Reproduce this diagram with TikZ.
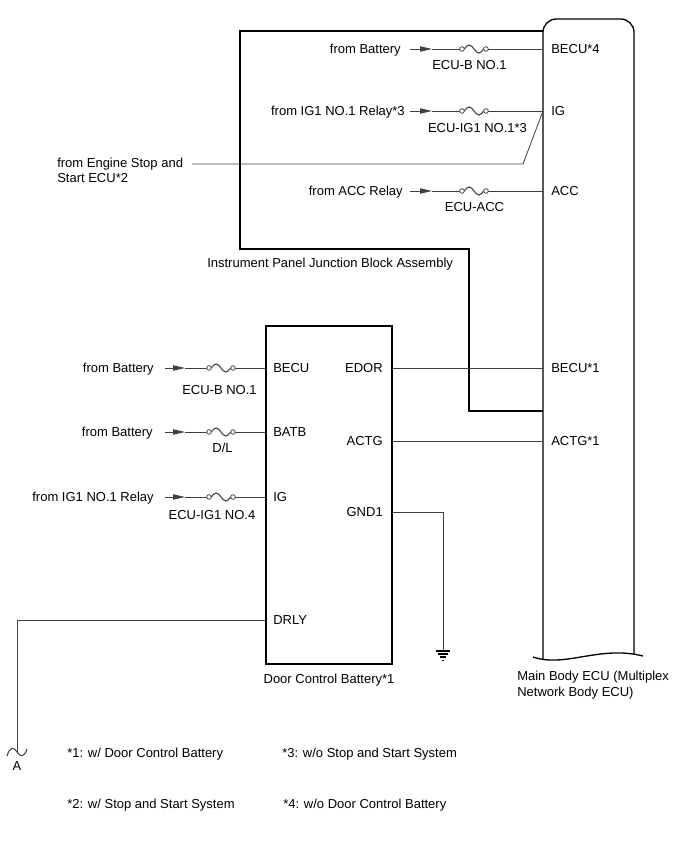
\documentclass[tikz,border=0pt]{standalone}
\usepackage{fontspec}
\setmainfont{Liberation Sans}
\usetikzlibrary{arrows.meta,positioning}
\tikzset{
  lbl/.style={inner sep=0pt,text height=7pt,text depth=0pt,font=\fontsize{9.75}{11.5}\selectfont},
  lbls/.style={inner sep=0pt,align=left,font=\fontsize{9.75}{11.5}\selectfont},
  wire/.style={line width=0.6pt,draw=black!75},
  frame/.style={line width=1pt},
  dcbbox/.style={draw,line width=1.5pt,minimum width=94.5pt,minimum height=253.5pt,inner sep=0pt},
  feed/.style={wire,-{Triangle[length=9pt,width=4pt]}},
  fuse/.pic={
    \draw[wire] (-12,0) circle[radius=2.3] (12,0) circle[radius=2.3];
    \draw[wire,line width=0.8pt] (-9.7,0) sin (-4.85,-4) cos (0,0) sin (4.85,4) cos (9.7,0);
    \coordinate (-l) at (-14.3,0);
    \coordinate (-r) at (14.3,0);
  }
}
\begin{document}
\begin{tikzpicture}[x=0.75pt,y=-0.75pt]
\useasboundingbox (0,0) rectangle (688,852);
% Main Body ECU
\draw[frame,rounded corners=10pt] (543,659) -- (543,19) -- (634,19) -- (634,654);
\draw[frame] (533,657) .. controls (565,668) and (600,645) .. (643,656);
\coordinate (ecu) at (543,0);
\node[lbls,anchor=north west] (ecuname) at (517,671) {Main Body ECU (Multiplex\\Network Body ECU)};
\node[lbl,anchor=west] (becu4) at (551,49) {BECU*4};
\node[lbl,anchor=west] (ig1) at (551,111) {IG};
\node[lbl,anchor=west] (acc) at (551,191) {ACC};
\node[lbl,anchor=west] (becu1) at (551,368) {BECU*1};
\node[lbl,anchor=west] (actg1) at (551,441) {ACTG*1};
% Instrument Panel Junction Block Assembly
\draw[frame] (543,31) -- (240,31) -- (240,249) -- (469,249) -- (469,411) -- (543,411);
\node[lbl,anchor=west] (jbname) at (207,263) {Instrument Panel Junction Block Assembly};
% ECU-B NO.1
\node[lbl,anchor=east] (bat1) at (401,49) {from Battery};
\coordinate (a1) at (410,49);
\coordinate (t1) at (432,49);
\pic (f1) at (474,49) {fuse};
\draw[feed] (a1) -- (t1);
\draw[wire] (t1) -- (f1-l);
\draw[wire] (f1-r) -- (becu4 -| ecu);
\node[lbl] (f1name) at (469.5,65) {ECU-B NO.1};
% ECU-IG1 NO.1
\node[lbl,anchor=east] (relay1) at (405,111) {from IG1 NO.1 Relay*3};
\coordinate (a2) at (410,111);
\coordinate (t2) at (432,111);
\pic (f2) at (474,111) {fuse};
\draw[feed] (a2) -- (t2);
\draw[wire] (t2) -- (f2-l);
\draw[wire] (f2-r) -- (ig1 -| ecu);
\node[lbl] (f2name) at (477.5,128) {ECU-IG1 NO.1*3};
% engine stop and start ECU
\node[lbls,anchor=north west] (eng) at (57,157.5) {from Engine Stop and\\Start ECU*2};
\coordinate (engs) at (192,164);
\coordinate (engk) at (523,164);
\draw[wire] (engs) -- (engk) -- (ig1 -| ecu);
% ECU-ACC
\node[lbl,anchor=east] (accrly) at (403,191) {from ACC Relay};
\coordinate (a3) at (410,191);
\coordinate (t3) at (432,191);
\pic (f3) at (474,191) {fuse};
\draw[feed] (a3) -- (t3);
\draw[wire] (t3) -- (f3-l);
\draw[wire] (f3-r) -- (acc -| ecu);
\node[lbl] (f3name) at (474.5,207) {ECU-ACC};
% Door Control Battery
\node[dcbbox] (dcb) at (329,495) {};
\node[lbl,below=6.5pt of dcb] (dcbname) {Door Control Battery*1};
\node[lbl,anchor=west] (pbecu) at (273,368) {BECU};
\node[lbl,anchor=west] (pbatb) at (273,432) {BATB};
\node[lbl,anchor=west] (pig) at (273,497) {IG};
\node[lbl,anchor=west] (pdrly) at (273,620) {DRLY};
\node[lbl,anchor=east] (pedor) at (383,368) {EDOR};
\node[lbl,anchor=east] (pactg) at (383,441) {ACTG};
\node[lbl,anchor=east] (pgnd) at (383,512) {GND1};
\draw[wire] (pedor -| dcb.east) -- (becu1 -| ecu);
\draw[wire] (pactg -| dcb.east) -- (pactg -| ecu);
% ECU-B NO.1 (door control battery)
\node[lbl,anchor=east] (bat2) at (154,368) {from Battery};
\coordinate (a4) at (165,368);
\coordinate (t4) at (185,368);
\pic (f4) at (221,368) {fuse};
\draw[feed] (a4) -- (t4);
\draw[wire] (t4) -- (f4-l);
\draw[wire] (f4-r) -- (pbecu -| dcb.west);
\node[lbl] (f4name) at (219.5,390) {ECU-B NO.1};
% D/L
\node[lbl,anchor=east] (bat3) at (153,432) {from Battery};
\coordinate (a5) at (165,432);
\coordinate (t5) at (185,432);
\pic (f5) at (221,432) {fuse};
\draw[feed] (a5) -- (t5);
\draw[wire] (t5) -- (f5-l);
\draw[wire] (f5-r) -- (pbatb -| dcb.west);
\node[lbl] (f5name) at (222.5,448) {D/L};
% ECU-IG1 NO.4
\node[lbl,anchor=east] (relay2) at (154,497) {from IG1 NO.1 Relay};
\coordinate (a6) at (165,497);
\coordinate (t6) at (185,497);
\pic (f6) at (221,497) {fuse};
\draw[feed] (a6) -- (t6);
\draw[wire] (t6) -- (f6-l);
\draw[wire] (f6-r) -- (pig -| dcb.west);
\node[lbl] (f6name) at (212,515) {ECU-IG1 NO.4};
% ground
\coordinate (g) at (443,651);
\draw[wire] (pgnd -| dcb.east) -- (pgnd -| g) -- (g);
\draw[wire,draw=black,line width=0.8pt] (g) ++(-7,0) -- ++(14,0)
  (g) ++(-5,3) -- ++(10,0)
  (g) ++(-3,6) -- ++(6,0)
  (g) ++(-1.2,9.5) -- ++(2.4,0);
% DRLY to A
\coordinate (aend) at (17,752);
\draw[wire] (pdrly -| dcb.west) -- (pdrly -| aend) -- (aend);
\draw[wire,line width=0.8pt] (7,756) .. controls (10,746) and (14,747) .. (17,752) .. controls (20,757) and (24,758) .. (27,749);
\node[lbl] (ptA) at (17,766) {A};
% notes
\node[lbl,anchor=west] (n1) at (67,753) {*1: w/ Door Control Battery};
\node[lbl,anchor=west] (n3) at (282,753) {*3: w/o Stop and Start System};
\node[lbl,anchor=west] (n2) at (67,804) {*2: w/ Stop and Start System};
\node[lbl,anchor=west] (n4) at (283,804) {*4: w/o Door Control Battery};
\end{tikzpicture}
\end{document}
